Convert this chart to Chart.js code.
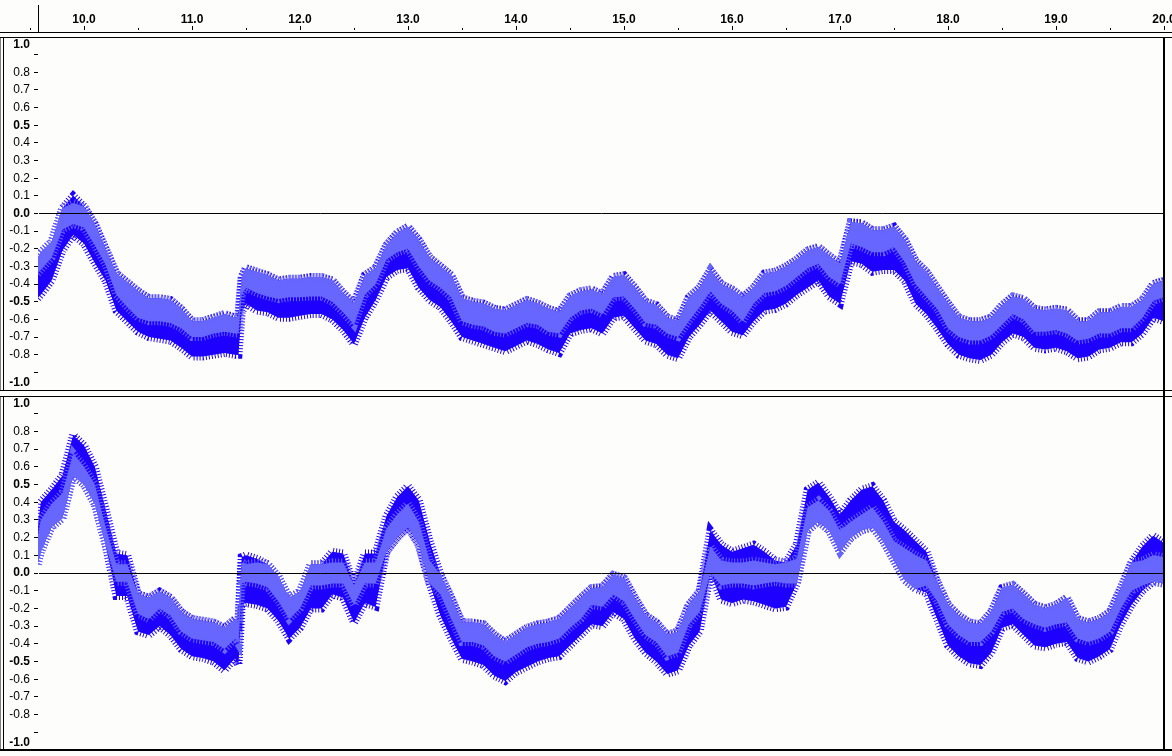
<!DOCTYPE html>
<html>
<head>
<meta charset="utf-8">
<title>Waveform 9.6 - 20.0 s</title>
<script src="https://cdn.jsdelivr.net/npm/chart.js@4.4.1/dist/chart.umd.min.js"></script>
<style>
  html, body { margin: 0; padding: 0; background: #fdfefb; }
  body { width: 1172px; height: 756px; position: relative; overflow: hidden; }
  .box { position: absolute; left: 0; width: 1172px; }
  .hline { position: absolute; left: 0; width: 1172px; height: 1px; background: #000; }
  .vline { position: absolute; width: 1px; background: #000; }
</style>
</head>
<body>
<div class="box" style="top:0;height:390px"><canvas id="track1"></canvas></div>
<div class="box" style="top:396px;height:354px"><canvas id="track2"></canvas></div>
<div class="hline" style="top:32px"></div>
<div class="hline" style="top:37px"></div>
<div class="hline" style="top:390px"></div>
<div class="hline" style="top:396px"></div>
<div class="hline" style="top:749px;height:2px"></div>
<div class="vline" style="left:38px;top:5px;height:27px"></div>
<div class="vline" style="left:3px;top:37px;height:353px"></div>
<div class="vline" style="left:3px;top:396px;height:354px"></div>
<div class="vline" style="left:1163px;top:37px;height:714px;width:2px"></div>
<script>
// time in seconds
const times = [9.57, 9.6, 9.7, 9.8, 9.9, 10.0, 10.1, 10.2, 10.3, 10.4, 10.5, 10.6, 10.7, 10.8, 10.9,
  11.0, 11.1, 11.2, 11.3, 11.4, 11.43, 11.46, 11.5, 11.6, 11.7, 11.8, 11.9,
  12.0, 12.1, 12.2, 12.3, 12.4, 12.5, 12.6, 12.7, 12.8, 12.9,
  13.0, 13.1, 13.2, 13.3, 13.4, 13.5, 13.6, 13.7, 13.8, 13.9,
  14.0, 14.1, 14.2, 14.3, 14.4, 14.5, 14.6, 14.7, 14.8, 14.9,
  15.0, 15.1, 15.2, 15.3, 15.4, 15.5, 15.6, 15.7, 15.8, 15.9,
  16.0, 16.1, 16.2, 16.3, 16.4, 16.5, 16.6, 16.7, 16.8, 16.9,
  17.0, 17.1, 17.2, 17.3, 17.4, 17.5, 17.6, 17.7, 17.8, 17.9,
  18.0, 18.1, 18.2, 18.3, 18.4, 18.5, 18.6, 18.7, 18.8, 18.9,
  19.0, 19.1, 19.2, 19.3, 19.4, 19.5, 19.6, 19.7, 19.8, 19.9, 20.0];

// track 1 (upper channel): peak max, peak min, rms
const hi1 = [-0.25, -0.22, -0.16, 0.03, 0.10, 0.04, -0.06, -0.20, -0.34, -0.39, -0.44, -0.48, -0.48, -0.49, -0.54,
  -0.61, -0.61, -0.59, -0.57, -0.59, -0.58, -0.36, -0.31, -0.33, -0.35, -0.38, -0.37,
  -0.37, -0.36, -0.36, -0.38, -0.45, -0.51, -0.35, -0.31, -0.18, -0.11,
  -0.075, -0.15, -0.25, -0.30, -0.35, -0.48, -0.50, -0.51, -0.54, -0.55,
  -0.52, -0.49, -0.51, -0.54, -0.56, -0.47, -0.44, -0.43, -0.46, -0.36,
  -0.35, -0.42, -0.50, -0.52, -0.59, -0.61, -0.475, -0.42, -0.32, -0.40,
  -0.43, -0.475, -0.42, -0.34, -0.33, -0.30, -0.26, -0.21, -0.19, -0.24,
  -0.285, -0.05, -0.055, -0.095, -0.095, -0.075, -0.15, -0.27, -0.33, -0.42,
  -0.51, -0.59, -0.61, -0.61, -0.59, -0.52, -0.47, -0.485, -0.54, -0.55,
  -0.54, -0.55, -0.61, -0.61, -0.56, -0.56, -0.53, -0.53, -0.49, -0.40, -0.38];
const lo1 = [-0.48, -0.46, -0.38, -0.21, -0.12, -0.17, -0.28, -0.38, -0.55, -0.61, -0.67, -0.70, -0.71, -0.72, -0.76,
  -0.81, -0.81, -0.80, -0.79, -0.80, -0.80, -0.56, -0.51, -0.55, -0.56, -0.59, -0.59,
  -0.58, -0.57, -0.57, -0.60, -0.66, -0.74, -0.59, -0.49, -0.36, -0.32,
  -0.31, -0.42, -0.49, -0.53, -0.61, -0.70, -0.72, -0.74, -0.76, -0.78,
  -0.75, -0.72, -0.74, -0.77, -0.79, -0.68, -0.66, -0.65, -0.68, -0.59,
  -0.58, -0.65, -0.72, -0.74, -0.80, -0.82, -0.70, -0.63, -0.55, -0.61,
  -0.67, -0.69, -0.61, -0.55, -0.54, -0.51, -0.46, -0.42, -0.38, -0.47,
  -0.51, -0.27, -0.285, -0.33, -0.32, -0.32, -0.38, -0.51, -0.57, -0.65,
  -0.74, -0.80, -0.82, -0.83, -0.80, -0.73, -0.68, -0.70, -0.76, -0.77,
  -0.76, -0.78, -0.82, -0.81, -0.77, -0.76, -0.73, -0.73, -0.68, -0.59, -0.61];
const rms1 = [0.34, 0.32, 0.25, 0.09, 0.06, 0.08, 0.18, 0.29, 0.46, 0.53, 0.59, 0.61, 0.61, 0.62, 0.65,
  0.70, 0.70, 0.68, 0.67, 0.68, 0.68, 0.46, 0.42, 0.45, 0.47, 0.485, 0.475,
  0.475, 0.47, 0.47, 0.50, 0.56, 0.63, 0.46, 0.40, 0.26, 0.22,
  0.20, 0.30, 0.38, 0.42, 0.475, 0.61, 0.63, 0.64, 0.67, 0.68,
  0.65, 0.62, 0.63, 0.67, 0.68, 0.59, 0.55, 0.54, 0.57, 0.475,
  0.47, 0.54, 0.62, 0.63, 0.68, 0.70, 0.61, 0.53, 0.44, 0.51,
  0.55, 0.61, 0.51, 0.45, 0.44, 0.41, 0.36, 0.31, 0.285, 0.36,
  0.40, 0.17, 0.19, 0.22, 0.22, 0.19, 0.275, 0.40, 0.47, 0.54,
  0.65, 0.70, 0.72, 0.72, 0.69, 0.63, 0.57, 0.60, 0.67, 0.67,
  0.66, 0.68, 0.72, 0.71, 0.68, 0.68, 0.65, 0.65, 0.59, 0.495, 0.475];

// track 2 (lower channel): peak max, peak min, rms
const hi2 = [0.25, 0.40, 0.47, 0.55, 0.78, 0.72, 0.60, 0.36, 0.11, 0.10, -0.12, -0.14, -0.105, -0.14, -0.22,
  -0.26, -0.27, -0.28, -0.31, -0.26, -0.28, 0.09, 0.10, 0.08, 0.05, -0.02, -0.14,
  -0.105, 0.05, 0.05, 0.12, 0.11, -0.07, 0.11, 0.11, 0.32, 0.43,
  0.49, 0.41, 0.18, -0.01, -0.14, -0.28, -0.28, -0.29, -0.35, -0.39,
  -0.35, -0.31, -0.29, -0.28, -0.26, -0.20, -0.14, -0.085, -0.08, -0.01,
  -0.03, -0.14, -0.24, -0.28, -0.35, -0.33, -0.18, -0.105, 0.24, 0.16,
  0.12, 0.14, 0.16, 0.12, 0.07, 0.06, 0.16, 0.47, 0.51, 0.43,
  0.33, 0.41, 0.47, 0.49, 0.41, 0.29, 0.24, 0.18, 0.12, -0.05,
  -0.18, -0.24, -0.28, -0.29, -0.22, -0.085, -0.067, -0.12, -0.18, -0.20,
  -0.18, -0.14, -0.26, -0.28, -0.26, -0.22, -0.085, 0.06, 0.15, 0.21, 0.17];
const lo2 = [0.05, 0.12, 0.26, 0.31, 0.55, 0.50, 0.39, 0.16, -0.13, -0.13, -0.33, -0.35, -0.30, -0.35, -0.43,
  -0.47, -0.48, -0.50, -0.55, -0.48, -0.52, -0.18, -0.17, -0.18, -0.20, -0.27, -0.37,
  -0.31, -0.20, -0.20, -0.12, -0.14, -0.28, -0.17, -0.19, 0.12, 0.20,
  0.26, 0.16, -0.06, -0.24, -0.37, -0.485, -0.50, -0.52, -0.58, -0.61,
  -0.56, -0.53, -0.50, -0.48, -0.47, -0.41, -0.35, -0.29, -0.30, -0.22,
  -0.26, -0.37, -0.45, -0.50, -0.57, -0.55, -0.41, -0.33, 0.0, -0.15,
  -0.17, -0.15, -0.16, -0.18, -0.20, -0.19, -0.06, 0.24, 0.29, 0.24,
  0.12, 0.20, 0.24, 0.26, 0.18, 0.07, -0.04, -0.09, -0.11, -0.26,
  -0.41, -0.47, -0.51, -0.52, -0.45, -0.31, -0.29, -0.35, -0.41, -0.42,
  -0.40, -0.39, -0.48, -0.50, -0.47, -0.43, -0.29, -0.18, -0.10, -0.05, -0.06];
const rms2 = [0.20, 0.30, 0.39, 0.45, 0.675, 0.60, 0.50, 0.26, 0.05, 0.05, 0.23, 0.26, 0.20, 0.24, 0.33,
  0.37, 0.38, 0.39, 0.43, 0.37, 0.40, 0.06, 0.05, 0.06, 0.08, 0.16, 0.26,
  0.20, 0.07, 0.07, 0.06, 0.06, 0.18, 0.06, 0.06, 0.25, 0.33,
  0.39, 0.29, 0.07, 0.12, 0.26, 0.39, 0.39, 0.41, 0.47, 0.50,
  0.46, 0.42, 0.40, 0.39, 0.37, 0.31, 0.26, 0.18, 0.19, 0.12,
  0.16, 0.26, 0.35, 0.39, 0.47, 0.45, 0.29, 0.22, 0.15, 0.07,
  0.06, 0.06, 0.07, 0.06, 0.05, 0.06, 0.08, 0.37, 0.41, 0.35,
  0.24, 0.29, 0.33, 0.37, 0.29, 0.18, 0.14, 0.10, 0.07, 0.16,
  0.29, 0.35, 0.39, 0.39, 0.33, 0.22, 0.20, 0.26, 0.29, 0.31,
  0.29, 0.28, 0.37, 0.39, 0.37, 0.33, 0.20, 0.10, 0.07, 0.10, 0.09];

const PEAK = '#1e00ff';
const RMS = '#6767ff';
const FONT = 'Liberation Sans, Arial, sans-serif';

function isMajor(v) {
    return Math.abs(Math.round(v * 10)) % 5 === 0;
}

function yLabel(v) {
    const r = Math.round(v * 10);
    if (r === 10) return ['', '1.0'];      // pushed inside the track
    if (r === -10) return ['-1.0', ''];
    if (Math.abs(r) === 9) return '';
    return (r / 10).toFixed(1);
}

// the light band is rms clipped to the peak range, as in Audacity
function bands(hi, lo, rms) {
    const pts = arr => times.map((t, i) => ({ x: t, y: arr[i] }));
    const rmsTop = hi.map((v, i) => Math.min(v, rms[i]));
    const rmsBottom = lo.map((v, i) => Math.max(v, -rms[i]));
    // a thick dashed edge gives the hairy look of the sample spikes
    const base = { pointRadius: 0, borderWidth: 8, borderDash: [1, 2], borderCapStyle: 'butt', tension: 0 };
    return [
        { ...base, label: 'rms', data: pts(rmsTop), fill: '+1', backgroundColor: RMS, borderColor: RMS, order: 1 },
        { ...base, label: 'rms low', data: pts(rmsBottom), fill: false, borderColor: RMS, order: 1 },
        { ...base, label: 'peak', data: pts(hi), fill: '+1', backgroundColor: PEAK, borderColor: PEAK, order: 2 },
        { ...base, label: 'peak low', data: pts(lo), fill: false, borderColor: PEAK, order: 2 }
    ];
}

function yAxis() {
    return {
        min: -1,
        max: 1,
        afterFit: s => { s.width = 38; s.paddingTop = 0; s.paddingBottom = 0; },
        border: { display: true, color: '#000', width: 1 },
        grid: {
            drawOnChartArea: true,
            color: c => (c.tick && c.tick.value === 0) ? '#000' : 'rgba(0,0,0,0)',
            tickColor: '#000',
            tickLength: 4,
            lineWidth: 1,
            z: 1
        },
        ticks: {
            stepSize: 0.1,
            autoSkip: false,
            padding: 4,
            color: '#000',
            font: c => ({ family: FONT, size: 12, weight: (c.tick && isMajor(c.tick.value)) ? 'bold' : 'normal' }),
            callback: v => yLabel(v)
        }
    };
}

// small ruler marks above the time labels
const rulerTicks = {
    id: 'rulerTicks',
    afterDraw(chart) {
        const xs = chart.scales.x;
        if (!xs.options.display) return;
        const ctx = chart.ctx;
        ctx.save();
        ctx.strokeStyle = '#000';
        ctx.lineWidth = 1;
        xs.ticks.forEach(t => {
            const px = Math.round(xs.getPixelForValue(t.value)) + 0.5;
            const major = Math.abs(t.value - Math.round(t.value)) < 1e-6;
            ctx.beginPath();
            ctx.moveTo(px, xs.bottom - (major ? 11 : 9));
            ctx.lineTo(px, xs.bottom - 7);
            ctx.stroke();
        });
        ctx.restore();
    }
};

function makeTrack(id, hi, lo, rms, showRuler) {
    return new Chart(document.getElementById(id).getContext('2d'), {
        type: 'line',
        data: { datasets: bands(hi, lo, rms) },
        options: {
            responsive: true,
            maintainAspectRatio: false,
            animation: false,
            events: [],
            layout: { padding: { left: 0, right: 8, top: 0, bottom: 0 } },
            plugins: { legend: { display: false }, tooltip: { enabled: false } },
            scales: {
                x: {
                    type: 'linear',
                    display: showRuler,
                    position: 'top',
                    min: 9.574,
                    max: 20.0,
                    afterFit: s => { s.height = showRuler ? 37 : 0; s.paddingLeft = 0; s.paddingRight = 0; },
                    afterBuildTicks: s => { s.ticks.unshift({ value: 9.5 }); },
                    grid: { display: false },
                    border: { display: false },
                    ticks: {
                        stepSize: 0.5,
                        includeBounds: false,
                        autoSkip: false,
                        maxRotation: 0,
                        padding: 2,
                        color: '#000',
                        font: { family: FONT, size: 12, weight: 'bold' },
                        callback: v => (Math.abs(v - Math.round(v)) < 1e-6 ? v.toFixed(1) : '')
                    }
                },
                y: yAxis()
            }
        },
        plugins: [rulerTicks]
    });
}

const track1 = makeTrack('track1', hi1, lo1, rms1, true);
const track2 = makeTrack('track2', hi2, lo2, rms2, false);
</script>
</body>
</html>
